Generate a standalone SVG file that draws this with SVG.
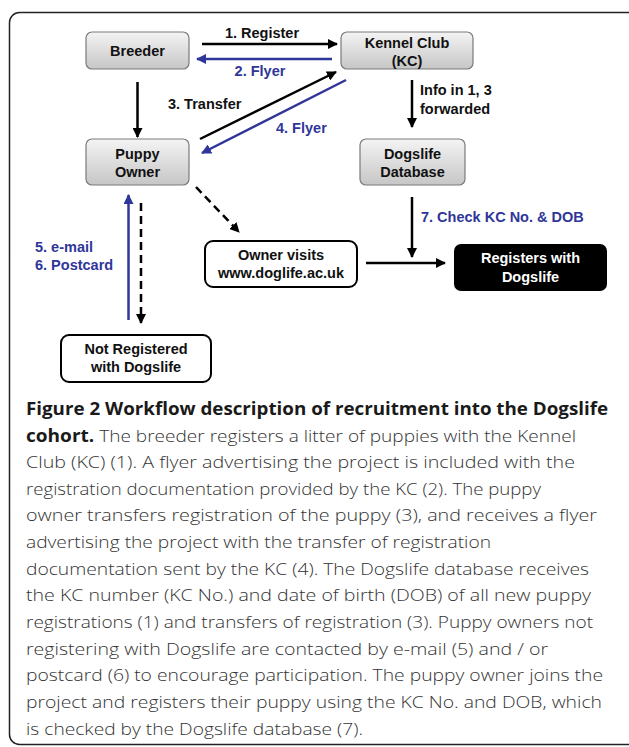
<svg xmlns="http://www.w3.org/2000/svg" width="629" height="747" viewBox="0 0 629 747">
<style>
.lbl{font-family:"Liberation Sans",Arial,sans-serif;font-weight:bold;font-size:14.5px;fill:#111}
.blue{fill:#2f3699}
.wt{fill:#fff}
.box{fill:url(#g);stroke:#7a7a7a;stroke-width:1.2}
.wbox{fill:#fff;stroke:#000;stroke-width:2}
.k{stroke:#000;stroke-width:2.5;fill:none}
.b{stroke:#2f3699;stroke-width:2.5;fill:none}
.d{stroke-dasharray:8,5}
.cap{font-family:"Open Sans","Noto Sans",sans-serif;font-size:17px;font-weight:300;fill:#333}
.capb{font-family:"Open Sans","Noto Sans",sans-serif;font-size:17.5px;font-weight:bold;fill:#1a1a1a}
.bt{font-weight:bold;fill:#1a1a1a}
</style>
<defs>
<linearGradient id="g" x1="0" y1="0" x2="0" y2="1">
<stop offset="0" stop-color="#f4f4f4"/>
<stop offset="1" stop-color="#c6c6c6"/>
</linearGradient>
<marker id="ak" viewBox="0 0 10 10" refX="9" refY="5" markerWidth="10" markerHeight="10" markerUnits="userSpaceOnUse" orient="auto"><path d="M0,0 L10,5 L0,10 z" fill="#000"/></marker>
<marker id="ab" viewBox="0 0 10 10" refX="9" refY="5" markerWidth="10" markerHeight="10" markerUnits="userSpaceOnUse" orient="auto"><path d="M0,0 L10,5 L0,10 z" fill="#2f3699"/></marker>
</defs>
<rect x="9.5" y="12.5" width="640" height="732" rx="10" fill="#fff" stroke="#222" stroke-width="1.5"/>

<g id="connectors">
<line class="k" x1="202" y1="44" x2="337" y2="44" marker-end="url(#ak)"/>
<line class="b" x1="332" y1="59" x2="197" y2="59" marker-end="url(#ab)"/>
<line class="k" x1="137.5" y1="82" x2="137.5" y2="137" marker-end="url(#ak)"/>
<line class="k" x1="200" y1="139" x2="336" y2="72" marker-end="url(#ak)"/>
<line class="b" x1="346" y1="80" x2="202" y2="153" marker-end="url(#ab)"/>
<line class="k" x1="412" y1="80" x2="412" y2="127" marker-end="url(#ak)"/>
<line class="k d" x1="196" y1="187" x2="239" y2="232" marker-end="url(#ak)"/>
<line class="b" x1="128.5" y1="320" x2="128.5" y2="195" marker-end="url(#ab)"/>
<line class="k d" x1="141" y1="203" x2="141" y2="323" marker-end="url(#ak)"/>
<line class="k" x1="412" y1="197" x2="412" y2="257" marker-end="url(#ak)"/>
<line class="k" x1="366" y1="263" x2="445" y2="263" marker-end="url(#ak)"/>
<text class="lbl" x="262" y="38" text-anchor="middle">1. Register</text>
<text class="lbl blue" x="260" y="76" text-anchor="middle">2. Flyer</text>
<text class="lbl" x="168" y="109">3. Transfer</text>
<text class="lbl blue" x="276" y="133">4. Flyer</text>
<text class="lbl" x="420" y="95">Info in 1, 3</text>
<text class="lbl" x="420" y="114">forwarded</text>
<text class="lbl blue" x="35" y="252">5. e-mail</text>
<text class="lbl blue" x="35" y="270">6. Postcard</text>
<text class="lbl blue" x="421" y="222">7. Check KC No. &amp; DOB</text>
</g>

<g id="breeder">
<rect class="box" x="86" y="32" width="103" height="37" rx="6"/>
<text class="lbl" x="137.5" y="56" text-anchor="middle">Breeder</text>
</g>
<g id="kennel-club">
<rect class="box" x="341" y="32" width="132" height="37" rx="6"/>
<text class="lbl" x="407" y="48" text-anchor="middle">Kennel Club</text>
<text class="lbl" x="407" y="66" text-anchor="middle">(KC)</text>
</g>
<g id="puppy-owner">
<rect class="box" x="86" y="139" width="103" height="46" rx="6"/>
<text class="lbl" x="137.5" y="159" text-anchor="middle">Puppy</text>
<text class="lbl" x="137.5" y="177" text-anchor="middle">Owner</text>
</g>
<g id="dogslife-db">
<rect class="box" x="360" y="139" width="105" height="46" rx="6"/>
<text class="lbl" x="412.5" y="159" text-anchor="middle">Dogslife</text>
<text class="lbl" x="412.5" y="177" text-anchor="middle">Database</text>
</g>
<g id="owner-visits">
<rect class="wbox" x="205" y="241" width="152" height="46" rx="8"/>
<text class="lbl" x="281" y="260" text-anchor="middle">Owner visits</text>
<text class="lbl" x="281" y="278" text-anchor="middle">www.doglife.ac.uk</text>
</g>
<g id="registers">
<rect x="454" y="244" width="153" height="47" rx="7" fill="#000"/>
<text class="lbl wt" x="530.5" y="263" text-anchor="middle">Registers with</text>
<text class="lbl wt" x="530.5" y="282" text-anchor="middle">Dogslife</text>
</g>
<g id="not-registered">
<rect class="wbox" x="61" y="335" width="150" height="47" rx="8"/>
<text class="lbl" x="136" y="354" text-anchor="middle">Not Registered</text>
<text class="lbl" x="136" y="372" text-anchor="middle">with Dogslife</text>
</g>

<g id="caption">
<text class="capb" x="26" y="415" textLength="582" lengthAdjust="spacingAndGlyphs">Figure 2 Workflow description of recruitment into the Dogslife</text>
<text class="cap" x="26" y="441.5" textLength="550" lengthAdjust="spacingAndGlyphs"><tspan class="bt">cohort.</tspan> The breeder registers a litter of puppies with the Kennel</text>
<text class="cap" x="26" y="468" textLength="549" lengthAdjust="spacingAndGlyphs">Club (KC) (1). A flyer advertising the project is included with the</text>
<text class="cap" x="26" y="494.7" textLength="515" lengthAdjust="spacingAndGlyphs">registration documentation provided by the KC (2). The puppy</text>
<text class="cap" x="26" y="521.3" textLength="571" lengthAdjust="spacingAndGlyphs">owner transfers registration of the puppy (3), and receives a flyer</text>
<text class="cap" x="26" y="548" textLength="465" lengthAdjust="spacingAndGlyphs">advertising the project with the transfer of registration</text>
<text class="cap" x="26" y="574.7" textLength="563" lengthAdjust="spacingAndGlyphs">documentation sent by the KC (4). The Dogslife database receives</text>
<text class="cap" x="26" y="601.3" textLength="565" lengthAdjust="spacingAndGlyphs">the KC number (KC No.) and date of birth (DOB) of all new puppy</text>
<text class="cap" x="26" y="628" textLength="567" lengthAdjust="spacingAndGlyphs">registrations (1) and transfers of registration (3). Puppy owners not</text>
<text class="cap" x="26" y="654.7" textLength="522" lengthAdjust="spacingAndGlyphs">registering with Dogslife are contacted by e-mail (5) and / or</text>
<text class="cap" x="26" y="681.3" textLength="577" lengthAdjust="spacingAndGlyphs">postcard (6) to encourage participation. The puppy owner joins the</text>
<text class="cap" x="26" y="708" textLength="576" lengthAdjust="spacingAndGlyphs">project and registers their puppy using the KC No. and DOB, which</text>
<text class="cap" x="26" y="734.5" textLength="337" lengthAdjust="spacingAndGlyphs">is checked by the Dogslife database (7).</text>
</g>
</svg>
